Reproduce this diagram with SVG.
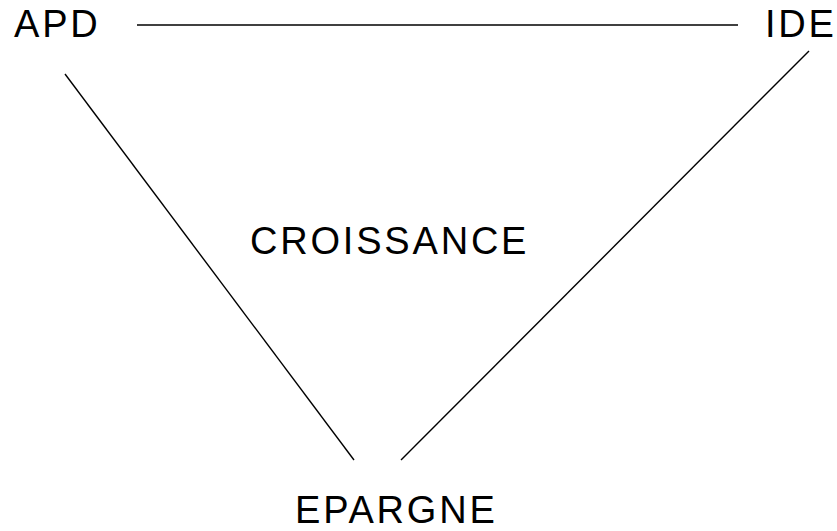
<svg xmlns="http://www.w3.org/2000/svg" width="837" height="531" viewBox="0 0 837 531">
<style>
.t{font-family:"Liberation Sans",Arial,sans-serif;font-size:38px;fill:#000;letter-spacing:2.8px}
.c line{stroke:#000;stroke-width:1.4;fill:none}
</style>
<rect width="837" height="531" fill="#fff"/>
<g class="c" id="connectors">
<line x1="137" y1="25" x2="738" y2="25"/>
<line x1="65" y1="74" x2="354" y2="460"/>
<line x1="809" y1="51" x2="401" y2="460"/>
</g>
<g id="apd"><text class="t" x="14" y="37">APD</text></g>
<g id="ide"><text class="t" x="765" y="37">IDE</text></g>
<g id="croissance"><text class="t" x="250" y="254">CROISSANCE</text></g>
<g id="epargne"><text class="t" x="295" y="523">EPARGNE</text></g>
</svg>
